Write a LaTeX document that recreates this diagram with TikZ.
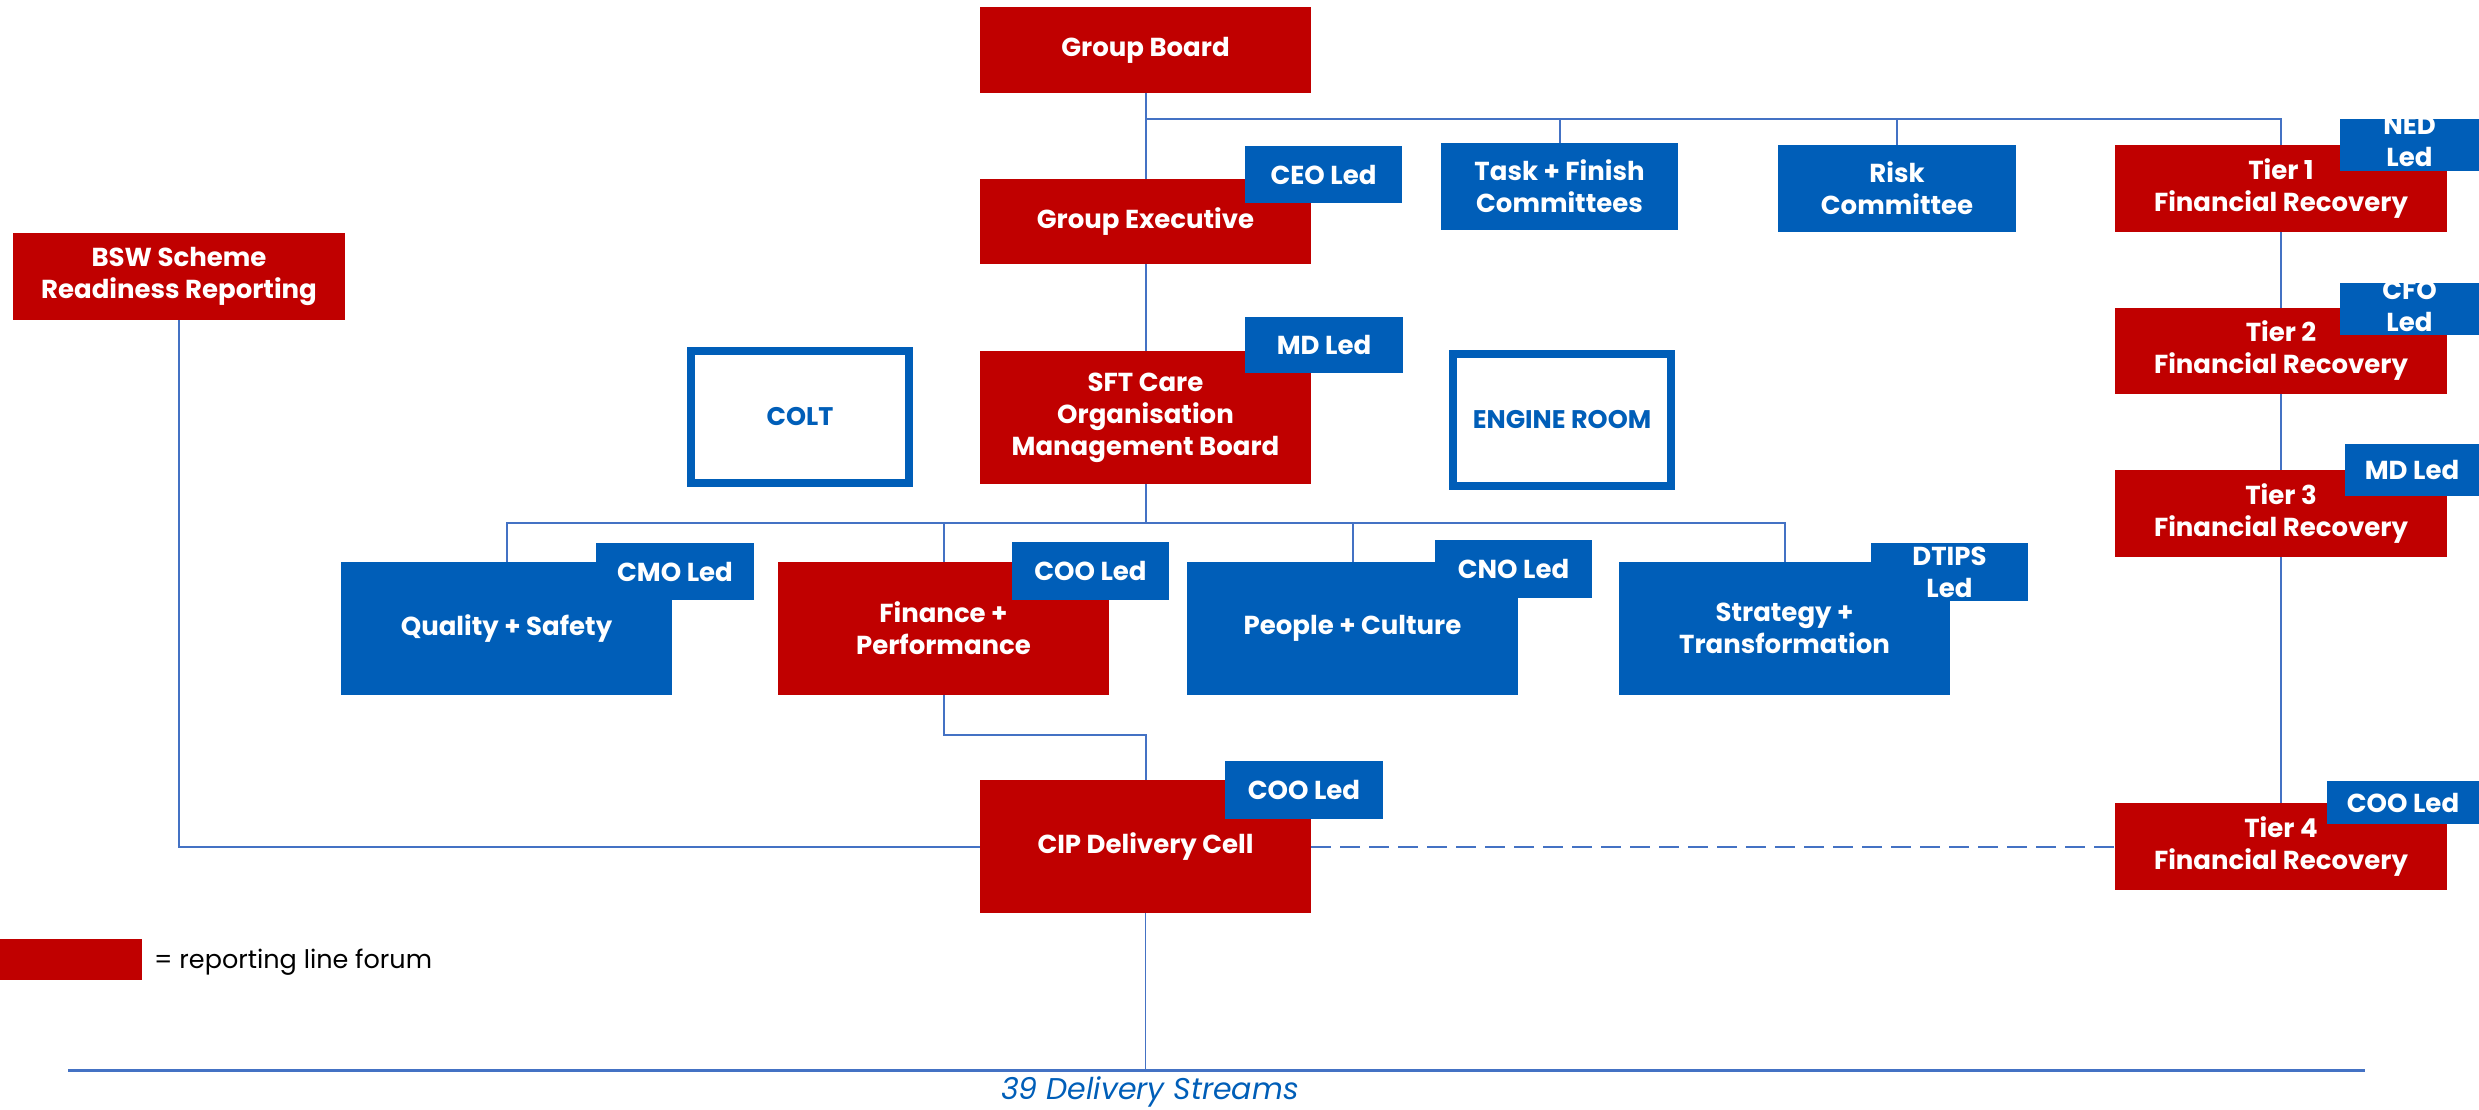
\documentclass[tikz,border=0pt]{standalone}
\usepackage{fontspec}
\setmainfont{Poppins}
\definecolor{nred}{HTML}{C00000}
\definecolor{nblue}{HTML}{005EB8}
\definecolor{lnk}{HTML}{4472C4}
\tikzset{
 box/.style={draw=none, inner sep=0pt, align=center, text=white, font=\bfseries\fontsize{26}{32}\selectfont},
 redbox/.style={box, fill=nred, minimum width=331pt},
 bluebox/.style={box, fill=nblue},
 tagbox/.style={box, fill=nblue},
 tagtxt/.style={inner sep=0pt, align=center, text=white, font=\bfseries\fontsize{26}{32}\selectfont},
 outl/.style={draw=nblue, line width=8pt, fill=white, inner sep=0pt, align=center, text=nblue, font=\bfseries\fontsize{25.5}{30}\selectfont, minimum width=218pt, minimum height=132pt},
 conn/.style={draw=lnk, line width=2pt},
}
\begin{document}
\begin{tikzpicture}[x=1pt,y=-1pt]
\useasboundingbox (0,0) rectangle (2479,1110);
% main boxes
\node[redbox, minimum height=86pt] (gb) at (1145.5,50) {Group Board};
\node[redbox, minimum height=85pt] (ge) at (1145.5,221.5) {Group Executive};
\node[bluebox, minimum width=237pt, minimum height=87pt] (task) at (1559.5,186.5) {Task + Finish\\Committees};
\node[bluebox, minimum width=238pt, minimum height=87pt] (risk) at (1897,188.5) {Risk\\Committee};
\node[redbox, minimum width=332pt, minimum height=87pt] (t1) at (2281,188.5) {Tier 1\\Financial Recovery};
\node[redbox, minimum width=332pt, minimum height=86pt] (t2) at (2281,351) {Tier 2\\Financial Recovery};
\node[redbox, minimum width=332pt, minimum height=87pt] (t3) at (2281,513.5) {Tier 3\\Financial Recovery};
\node[redbox, minimum width=332pt, minimum height=87pt] (t4) at (2281,846.5) {Tier 4\\Financial Recovery};
\node[redbox, minimum width=332pt, minimum height=87pt] (bsw) at (179,276.5) {BSW Scheme\\Readiness Reporting};
\node[outl] (colt) at (800,417) {COLT};
\node[redbox, minimum height=133pt] (sft) at (1145.5,417.5) {SFT Care\\Organisation\\Management Board};
\node[outl] (eng) at (1562,420) {ENGINE ROOM};
\node[bluebox, minimum width=331pt, minimum height=133pt] (qs) at (506.5,628.5) {Quality + Safety};
\node[redbox, minimum height=133pt] (fp) at (943.5,628.5) {Finance +\\Performance};
\node[bluebox, minimum width=331pt, minimum height=133pt] (pc) at (1352.5,628.5) {People + Culture};
\node[bluebox, minimum width=331pt, minimum height=133pt] (st) at (1784.5,628.5) {Strategy +\\Transformation};
\node[redbox, minimum height=133pt] (cip) at (1145.5,846.5) {CIP Delivery Cell};
% connectors
\coordinate (j1) at (1145.5,119);
\coordinate (j2) at (1145.5,523);
\coordinate (j3) at (1145.5,735);
\coordinate (bl) at (68,1070);
\coordinate (br) at (2365,1070);
\draw[conn] (gb.south) -- (ge.north);
\draw[conn] (j1) -| (t1.north);
\draw[conn] (task.north) -- (task.north |- j1);
\draw[conn] (risk.north) -- (risk.north |- j1);
\draw[conn] (ge.south) -- (sft.north);
\draw[conn] (sft.south) -- (j2);
\draw[conn] (qs.north) |- (st.north |- j2) -- (st.north);
\draw[conn] (fp.north) -- (fp.north |- j2);
\draw[conn] (pc.north) -- (pc.north |- j2);
\draw[conn] (fp.south) |- (j3) -- (cip.north);
\draw[conn] (bsw.south) |- (cip.west);
\draw[conn, dash pattern=on 20pt off 9pt] (cip.east) -- (t4.west);
\draw[conn] (t1.south) -- (t2.north);
\draw[conn] (t2.south) -- (t3.north);
\draw[conn] (t3.south) -- (t4.north);
\draw[conn, line width=3pt] (bl) -- (br);
\draw[conn, line width=1.5pt] (cip.south) -- (cip.south |- bl);
% tags
\node[tagbox, minimum width=157pt, minimum height=57pt] (ceo) at (1323.5,174.5) {CEO Led};
\node[tagbox, minimum width=158pt, minimum height=56pt] (md1) at (1324,345) {MD Led};
\node[tagbox, minimum width=158pt, minimum height=57pt] (cmo) at (675,571.5) {CMO Led};
\node[tagbox, minimum width=157pt, minimum height=58pt] (coo1) at (1090.5,571) {COO Led};
\node[tagbox, minimum width=157pt, minimum height=58pt] (cno) at (1513.5,569) {CNO Led};
\node[tagbox, minimum width=157pt, minimum height=58pt] (dtips) at (1949.5,572) {DTIPS\\Led};
\node[tagbox, minimum width=158pt, minimum height=58pt] (coo2) at (1304,790) {COO Led};
\node[tagbox, minimum width=139pt, minimum height=52pt] (ned) at (2409.5,145) {};
\begin{scope}
\clip (ned.south west) rectangle (ned.north east);
\node[tagtxt] (nedt) at ([yshift=4pt]ned.center) {NED\\Led};
\end{scope}
\node[tagbox, minimum width=139pt, minimum height=52pt] (cfo) at (2409.5,309) {};
\begin{scope}
\clip (cfo.south west) rectangle (cfo.north east);
\node[tagtxt] (cfot) at ([yshift=3pt]cfo.center) {CFO\\Led};
\end{scope}
\node[tagbox, minimum width=134pt, minimum height=52pt] (md2) at (2412,470) {MD Led};
\node[tagbox, minimum width=152pt, minimum height=43pt] (coo3) at (2403,802.5) {COO Led};
% legend and label
\node[fill=nred, minimum width=142pt, minimum height=41pt, inner sep=0pt] (leg) at (71,959.5) {};
\node[anchor=west, inner sep=0pt, font=\fontsize{25.5}{30}\selectfont] (legt) at (154,962) {= reporting line forum};
\node[text=nblue, inner sep=0pt, font=\itshape\fontsize{30}{36}\selectfont] (ds) at (1150,1092) {39 Delivery Streams};
\end{tikzpicture}
\end{document}
